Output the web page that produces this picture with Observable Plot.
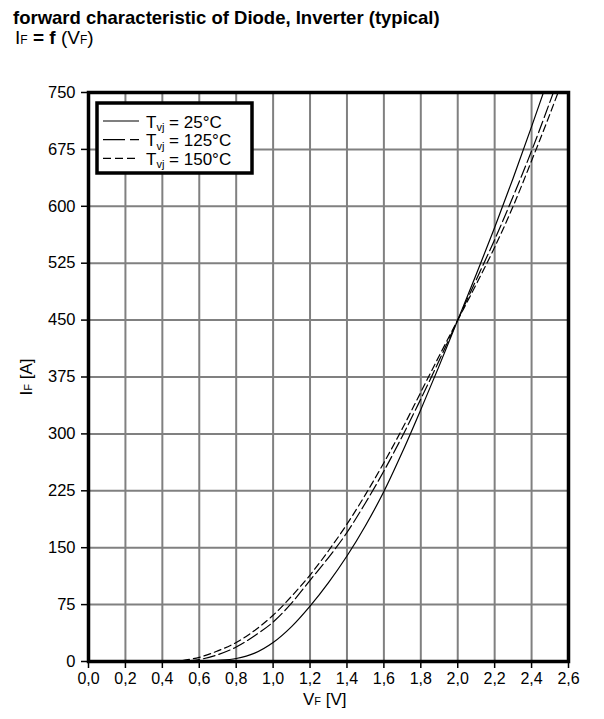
<!DOCTYPE html>
<html><head><meta charset="utf-8">
<script src="https://cdn.jsdelivr.net/npm/d3@7"></script>
<script src="https://cdn.jsdelivr.net/npm/@observablehq/plot@0.6"></script>
<style>body{margin:0;background:#fff;} svg{display:block}</style>
</head><body><div id="chart"></div>
<script>
// Forward voltage V_F [V] and forward current I_F [A]
const vf25  = [0.45,0.5,0.6,0.7,0.8,0.9,1.0,1.1,1.2,1.3,1.4,1.5,1.6,1.7,1.8,1.9,2.0,2.1,2.2,2.3,2.4,2.5];
const if25  = [0,0.1,0.5,1.5,4,11,25,46,73,104,139,179,224,276,332,390,450,510,572,637,705,775];
const vf125 = [0.45,0.5,0.6,0.7,0.8,0.9,1.0,1.1,1.2,1.3,1.4,1.5,1.6,1.7,1.8,1.9,2.0,2.1,2.2,2.3,2.4,2.5,2.6];
const if125 = [0,0.4,2.6,9,19,34,52,77,107,137,170,209,251,297,346,397,450,503,556,613,673,738,805];
const vf150 = [0.45,0.5,0.6,0.7,0.8,0.9,1.0,1.1,1.2,1.3,1.4,1.5,1.6,1.7,1.8,1.9,2.0,2.1,2.2,2.3,2.4,2.5,2.6];
const if150 = [0,1,5.5,14,25,41,61,86,114,146,181,220,262,307,355,403,450,497,546,600,660,722,787];
const seriesTemps = ["25°C","125°C","150°C"];
const xTicks = [0,0.2,0.4,0.6,0.8,1.0,1.2,1.4,1.6,1.8,2.0,2.2,2.4,2.6];
const yTicks = [0,75,150,225,300,375,450,525,600,675,750];

const toRows = (vs, is) => vs.map((v, k) => ({v, i: is[k]}));
const rows25 = toRows(vf25, if25), rows125 = toRows(vf125, if125), rows150 = toRows(vf150, if150);
const fmtX = d => d3.format(".1f")(d).replace(".", ",");
const FONT = "'Liberation Sans', Arial, sans-serif";

const plot = Plot.plot({
  width: 604, height: 719,
  marginTop: 92, marginLeft: 88, marginRight: 36, marginBottom: 58,
  style: {fontFamily: FONT, background: "#fff", color: "#000"},
  x: {domain: [0, 2.6]},
  y: {domain: [0, 750]},
  marks: [
    Plot.gridX(xTicks, {stroke: "#808080", strokeOpacity: 1, strokeWidth: 2}),
    Plot.gridY(yTicks, {stroke: "#808080", strokeOpacity: 1, strokeWidth: 2}),
    Plot.line(rows25,  {x: "v", y: "i", stroke: "#000", strokeWidth: 1.2, curve: "catmull-rom", clip: true}),
    Plot.line(rows125, {x: "v", y: "i", stroke: "#000", strokeWidth: 1.2, strokeDasharray: "12,4", curve: "catmull-rom", clip: true}),
    Plot.line(rows150, {x: "v", y: "i", stroke: "#000", strokeWidth: 1.2, strokeDasharray: "7,4", curve: "catmull-rom", clip: true}),
    Plot.frame({stroke: "#000", strokeWidth: 3.5}),
    Plot.axisX(xTicks, {tickSize: 7, tickPadding: 4, tickFormat: fmtX, fontSize: 16, label: null, strokeWidth: 1.5}),
    Plot.axisY(yTicks, {tickSize: 7, tickPadding: 6, fontSize: 16.5, label: null, strokeWidth: 1.5})
  ]
});

const svg = d3.select(plot);
svg.style("font-family", FONT);

// Title and subtitle
svg.append("text").attr("x", 13).attr("y", 24).attr("text-anchor", "start").attr("font-size", 18.5).attr("font-weight", "bold")
  .attr("fill", "#000").text("forward characteristic of Diode, Inverter (typical)");
const sub = svg.append("text").attr("x", 15).attr("y", 44).attr("text-anchor", "start").attr("font-size", 19).attr("fill", "#000");
sub.append("tspan").text("I");
sub.append("tspan").attr("font-size", 12).text("F");
sub.append("tspan").attr("font-weight", "bold").text(" = f ");
sub.append("tspan").text("(V");
sub.append("tspan").attr("font-size", 12).text("F");
sub.append("tspan").text(")");

// Axis labels
const xl = svg.append("text").attr("x", 303).attr("y", 705).attr("text-anchor", "start").attr("font-size", 17).attr("fill", "#000");
xl.append("tspan").text("V");
xl.append("tspan").attr("font-size", 11).text("F");
xl.append("tspan").text(" [V]");
const yl = svg.append("text").attr("transform", "translate(32,377) rotate(-90)").attr("text-anchor", "middle").attr("font-size", 17).attr("fill", "#000");
yl.append("tspan").text("I");
yl.append("tspan").attr("font-size", 11).text("F");
yl.append("tspan").text(" [A]");

// Legend
const lg = svg.append("g");
lg.append("rect").attr("x", 97).attr("y", 103).attr("width", 155).attr("height", 70)
  .attr("fill", "#fff").attr("stroke", "#000").attr("stroke-width", 3.5);
const dashes = [null, "22,5", "8,4"];
seriesTemps.forEach((t, k) => {
  const yy = 121 + k * 18.7;
  const ln = lg.append("line").attr("x1", 103).attr("x2", 139).attr("y1", yy).attr("y2", yy)
    .attr("stroke", "#000").attr("stroke-width", 1.2);
  if (dashes[k]) ln.attr("stroke-dasharray", dashes[k]);
  const tx = lg.append("text").attr("x", 146).attr("y", yy + 6.5).attr("text-anchor", "start").attr("font-size", 17).attr("fill", "#000");
  tx.append("tspan").text("T");
  tx.append("tspan").attr("font-size", 11).attr("dy", 3.5).text("vj");
  tx.append("tspan").attr("dy", -3.5).text(" = " + t);
});

document.getElementById("chart").appendChild(plot);
</script>
</body></html>
